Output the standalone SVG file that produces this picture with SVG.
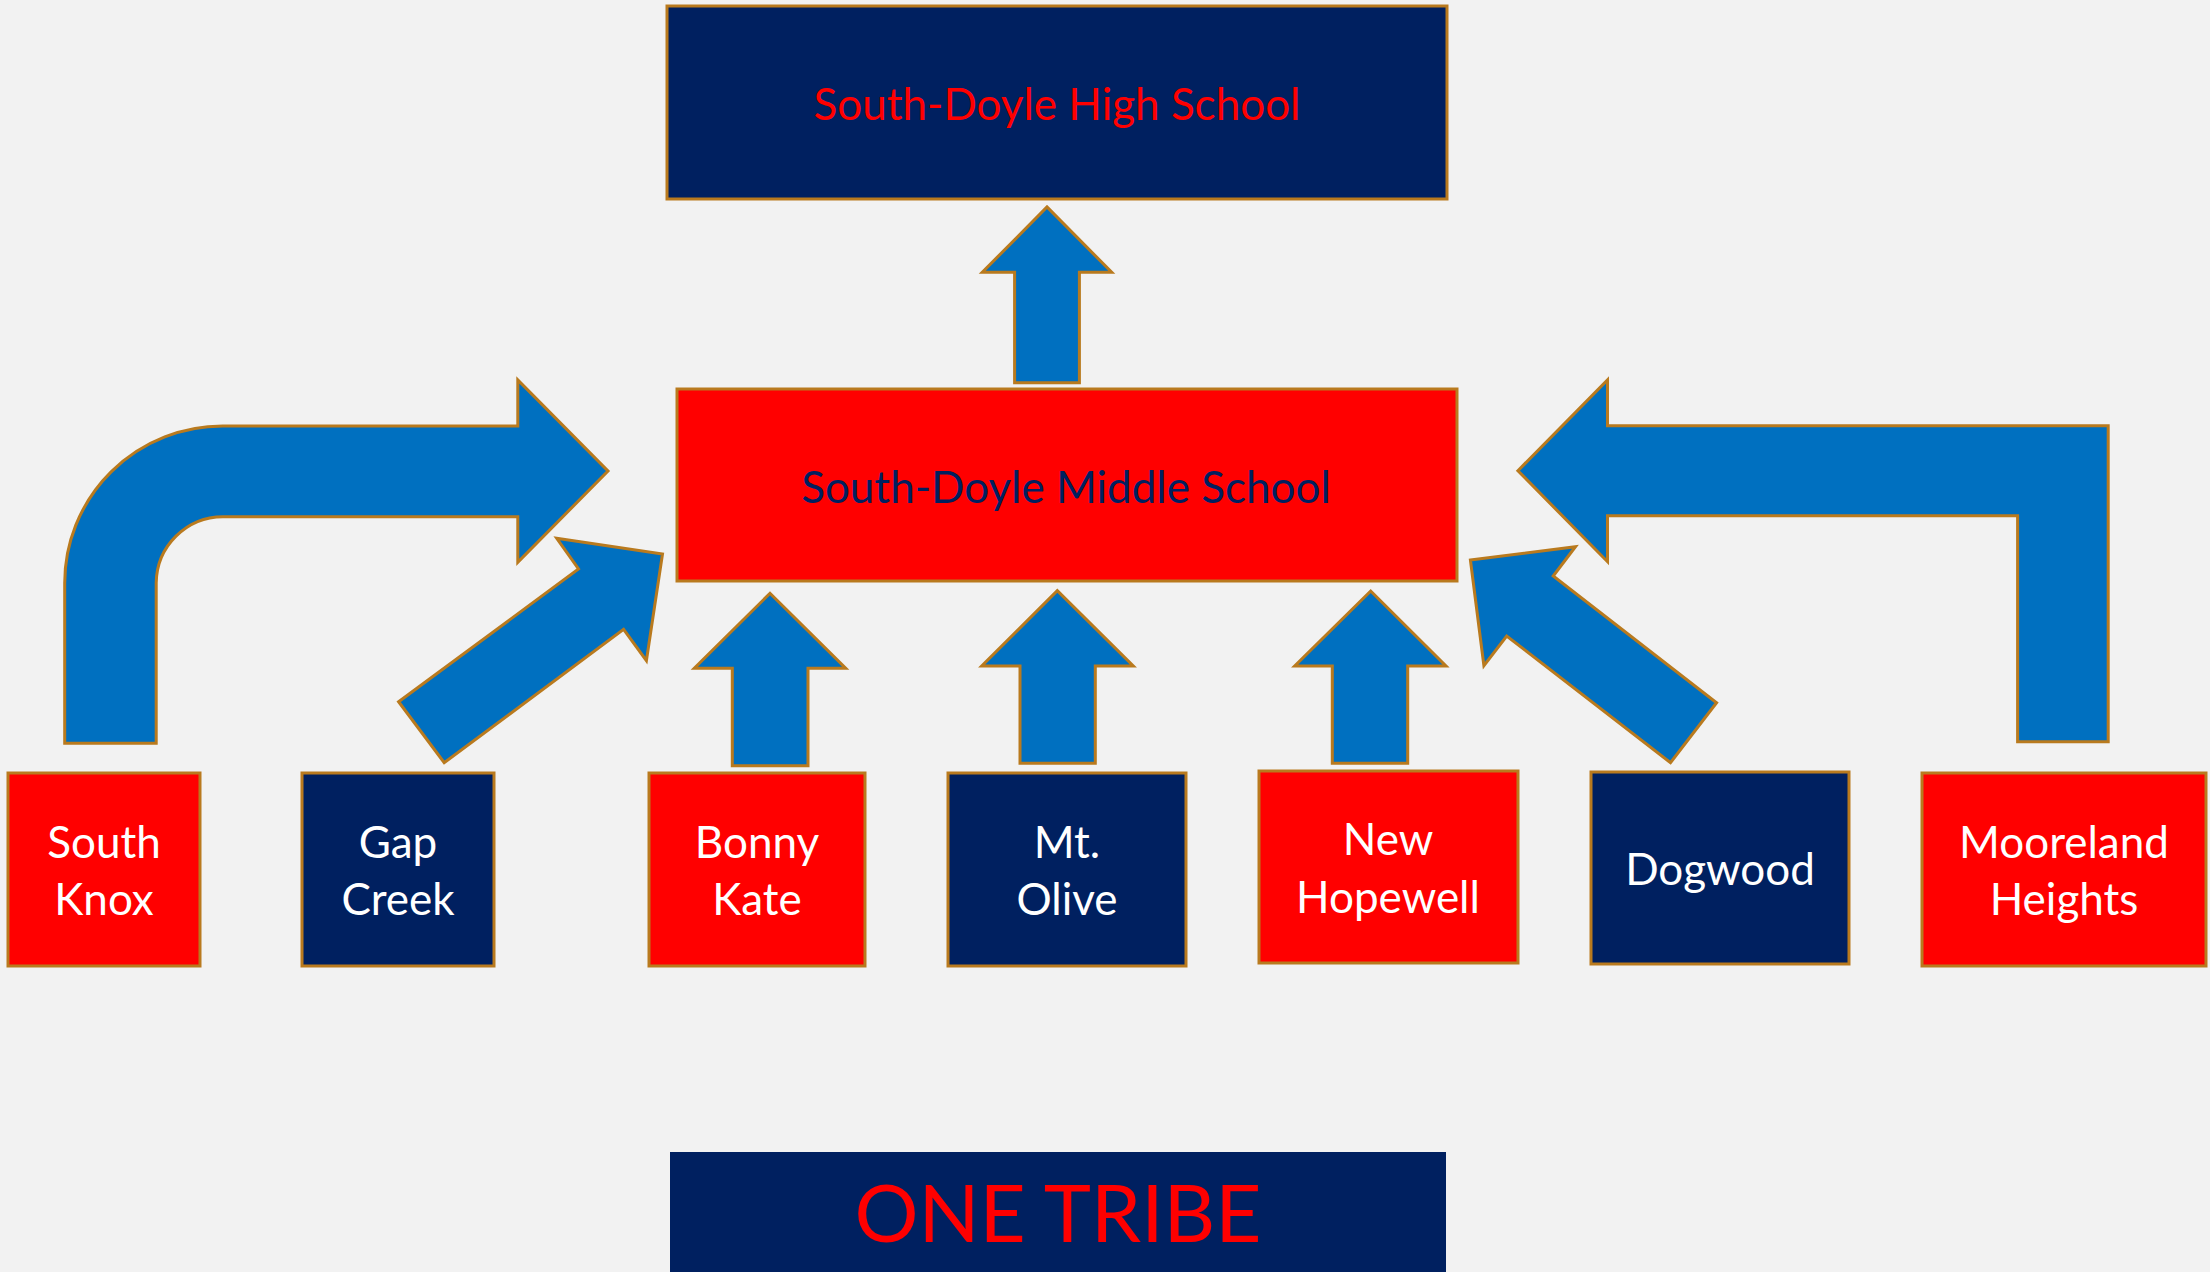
<svg xmlns="http://www.w3.org/2000/svg" width="2210" height="1272" viewBox="0 0 2210 1272">
  <style>
    .box { stroke: #B97A1E; stroke-width: 3; }
    .navy { fill: #002060; }
    .red { fill: #FF0000; }
    .arrow { fill: #0070C0; stroke: #B97A1E; stroke-width: 3; stroke-linejoin: miter; }
    text { font-family: Lato, "Open Sans", "Liberation Sans", sans-serif; text-anchor: middle; }
    .lbl { fill: #FFFFFF; font-size: 44px; }
    .title { font-size: 44px; }
  </style>
  <rect x="0" y="0" width="2210" height="1272" fill="#F2F2F2"/>

  <g id="connectors">
    <path class="arrow" d="M 1014.6 382.7 L 1014.6 272.3 L 982.3 272.3 L 1047 207 L 1111.7 272.3 L 1079.4 272.3 L 1079.4 382.7 Z"/>
    <path class="arrow" d="M 64.7 743.3 L 64.7 583 A 158 157 0 0 1 223 426 L 517.8 426 L 517.8 380 L 608 471 L 517.8 562.3 L 517.8 516.7 L 223 516.7 A 67 67 0 0 0 156.2 583 L 156.2 743.3 Z"/>
    <path class="arrow" d="M 398.6 701.7 L 578.5 569 L 556.7 538.3 L 662.5 554 L 646.4 660.7 L 623.6 629.3 L 444.2 762.7 Z"/>
    <path class="arrow" d="M 732.3 765.7 L 732.3 668.3 L 694.3 668.3 L 770 593.3 L 845.7 668.3 L 808 668.3 L 808 765.7 Z"/>
    <path class="arrow" d="M 1020 763.3 L 1020 666 L 981.7 666 L 1057.3 590.7 L 1133.3 666 L 1095.3 666 L 1095.3 763.3 Z"/>
    <path class="arrow" d="M 1332.3 763.3 L 1332.3 666 L 1294.7 666 L 1370.7 591 L 1446 666 L 1407.7 666 L 1407.7 763.3 Z"/>
    <path class="arrow" d="M 1470.4 560 L 1575.5 546.7 L 1553.2 576 L 1716.6 702.7 L 1670.5 762.7 L 1506.7 636 L 1483.9 665.7 Z"/>
    <path class="arrow" d="M 1517.9 470.7 L 1607.5 380 L 1607.5 425.7 L 2108.2 425.7 L 2108.2 741.7 L 2017.6 741.7 L 2017.6 515.7 L 1607.5 515.7 L 1607.5 561.7 Z"/>
  </g>

  <g id="high-school">
    <rect class="box navy" x="667" y="6" width="780" height="193"/>
    <text class="title" x="1057" y="120" fill="#FF0000">South-Doyle High School</text>
  </g>

  <g id="middle-school">
    <rect class="box red" x="677" y="389" width="780" height="192"/>
    <text class="title" x="1066" y="503" fill="#002060">South-Doyle Middle School</text>
  </g>

  <g id="south-knox">
    <rect class="box red" x="8" y="773" width="192" height="193"/>
    <text class="lbl" x="104" y="858">South</text>
    <text class="lbl" x="104" y="915">Knox</text>
  </g>

  <g id="gap-creek">
    <rect class="box navy" x="302" y="773" width="192" height="193"/>
    <text class="lbl" x="398" y="858">Gap</text>
    <text class="lbl" x="398" y="915">Creek</text>
  </g>

  <g id="bonny-kate">
    <rect class="box red" x="649" y="773" width="216" height="193"/>
    <text class="lbl" x="757" y="858">Bonny</text>
    <text class="lbl" x="757" y="915">Kate</text>
  </g>

  <g id="mt-olive">
    <rect class="box navy" x="948" y="773" width="238" height="193"/>
    <text class="lbl" x="1067" y="858">Mt.</text>
    <text class="lbl" x="1067" y="915">Olive</text>
  </g>

  <g id="new-hopewell">
    <rect class="box red" x="1259" y="771" width="259" height="192"/>
    <text class="lbl" x="1388" y="855">New</text>
    <text class="lbl" x="1388" y="913">Hopewell</text>
  </g>

  <g id="dogwood">
    <rect class="box navy" x="1591" y="772" width="258" height="192"/>
    <text class="lbl" x="1720" y="885">Dogwood</text>
  </g>

  <g id="mooreland-heights">
    <rect class="box red" x="1922" y="773" width="284" height="193"/>
    <text class="lbl" x="2064" y="858">Mooreland</text>
    <text class="lbl" x="2064" y="915">Heights</text>
  </g>

  <g id="one-tribe">
    <rect x="670" y="1152" width="776" height="130" fill="#002060"/>
    <text x="1058" y="1242" fill="#FF0000" font-size="80px">ONE TRIBE</text>
  </g>
</svg>
